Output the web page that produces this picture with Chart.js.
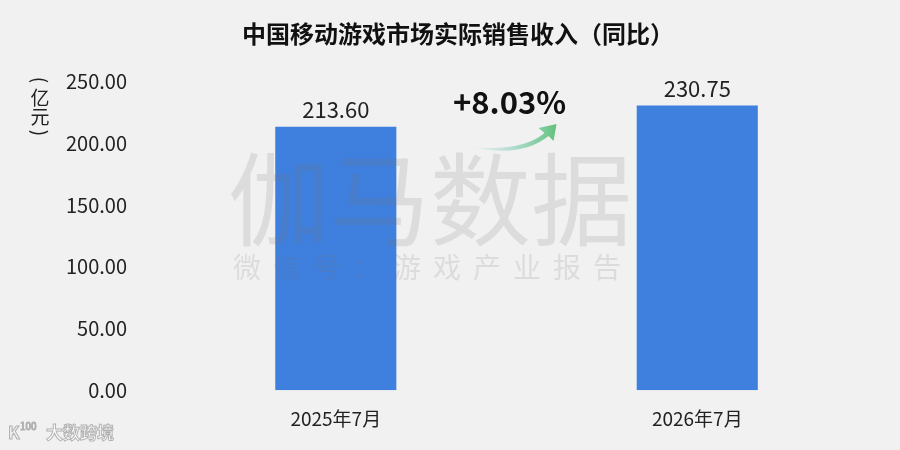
<!DOCTYPE html>
<html>
<head>
  <title>中国移动游戏市场实际销售收入（同比）</title>
  <script src="https://cdn.jsdelivr.net/npm/chart.js"></script>
  <style>
    html, body { margin: 0; padding: 0; background: #f1f1f1; }
    #wrap { width: 900px; height: 450px; position: relative; }
  </style>
</head>
<body>
<div id="wrap"><canvas id="revChart" width="900" height="450"></canvas></div>

<script>
  const categories = ['2025年7月', '2026年7月'];
  const revenue = [213.60, 230.75];
  const yTicks = [0, 50, 100, 150, 200, 250];
  const growthLabel = '+8.03%';

  const FONT = '"Noto Sans CJK SC", "Noto Sans", sans-serif';

  // watermark, value labels, growth arrow, unit label, footer logo
  const extras = {
    id: 'extras',
    afterDatasetsDraw(chart) {
      const ctx = chart.ctx;
      const meta = chart.getDatasetMeta(0);

      ctx.save();
      ctx.fillStyle = '#222';
      ctx.font = '22px ' + FONT;
      ctx.textAlign = 'center';
      ctx.textBaseline = 'bottom';
      meta.data.forEach((bar, i) => {
        ctx.fillText(revenue[i].toFixed(2), bar.x, bar.y - 6);
      });

      // watermark
      ctx.fillStyle = 'rgba(120,120,120,0.17)';
      ctx.textBaseline = 'middle';
      ctx.font = '101px ' + FONT;
      ctx.fillText('伽马数据', 430, 200);
      ctx.font = '28px ' + FONT;
      ctx.letterSpacing = '12px';
      ctx.fillText('微信号：游戏产业报告', 433, 267);
      ctx.letterSpacing = '0px';

      // growth text + arrow between bars
      const x0 = meta.data[0].x, x1 = meta.data[1].x;
      const mx = (x0 + x1) / 2;
      ctx.fillStyle = '#111';
      ctx.font = 'bold 31px ' + FONT;
      ctx.fillText(growthLabel, mx - 7, 102);

      const grad = ctx.createLinearGradient(mx - 45, 0, mx + 40, 0);
      grad.addColorStop(0, 'rgba(120,200,210,0)');
      grad.addColorStop(1, '#62c27a');
      ctx.fillStyle = grad;
      ctx.beginPath();
      ctx.moveTo(mx - 45, 147);
      ctx.quadraticCurveTo(mx + 5, 152, mx + 28, 133);
      ctx.lineTo(mx + 22, 128);
      ctx.lineTo(mx + 40, 124);
      ctx.lineTo(mx + 37, 141);
      ctx.lineTo(mx + 32, 136);
      ctx.quadraticCurveTo(mx + 5, 158, mx - 45, 147);
      ctx.fill();

      // unit label, vertical
      ctx.fillStyle = '#222';
      ctx.font = '19px ' + FONT;
      ctx.textBaseline = 'middle';
      ctx.save();
      ctx.translate(40, 80);
      ctx.rotate(Math.PI / 2);
      ctx.fillText('(', 0, 0);
      ctx.restore();
      ctx.fillText('亿', 40, 98);
      ctx.fillText('元', 40, 117);
      ctx.save();
      ctx.translate(40, 133);
      ctx.rotate(Math.PI / 2);
      ctx.fillText(')', 0, 0);
      ctx.restore();

      // footer logo
      ctx.fillStyle = 'rgba(255,255,255,0.9)';
      ctx.strokeStyle = 'rgba(160,160,160,0.8)';
      ctx.lineWidth = 1;
      ctx.textAlign = 'left';
      ctx.font = 'bold 17px ' + FONT;
      ctx.strokeText('K', 8, 433);
      ctx.font = '10px ' + FONT;
      ctx.strokeText('100', 20, 426);
      ctx.font = 'bold 17px ' + FONT;
      ctx.fillText('大数跨境', 46, 433);
      ctx.strokeText('大数跨境', 46, 433);
      ctx.restore();
    }
  };

  new Chart(document.getElementById('revChart'), {
    type: 'bar',
    data: {
      labels: categories,
      datasets: [{
        data: revenue,
        backgroundColor: '#3f7fde',
        barPercentage: 0.335,
        categoryPercentage: 1.0
      }]
    },
    options: {
      responsive: false,
      animation: false,
      layout: { padding: { left: 38, right: 22, top: 10, bottom: 3 } },
      plugins: {
        legend: { display: false },
        tooltip: { enabled: false },
        title: {
          display: true,
          text: '中国移动游戏市场实际销售收入（同比）',
          color: '#111',
          font: { family: FONT, size: 24, weight: 'bold' },
          padding: { top: 9, bottom: 34 }
        }
      },
      scales: {
        x: {
          grid: { display: false, drawTicks: false },
          border: { display: false },
          ticks: {
            color: '#222',
            padding: 17,
            font: { family: FONT, size: 19 }
          }
        },
        y: {
          min: 0,
          max: 250,
          afterBuildTicks(axis) { axis.ticks = yTicks.map(v => ({ value: v })); },
          grid: { display: false, drawTicks: false },
          border: { display: false },
          ticks: {
            color: '#222',
            padding: 28,
            font: { family: FONT, size: 20 },
            callback: v => Number(v).toFixed(2)
          }
        }
      }
    },
    plugins: [extras]
  });
</script>
</body>
</html>
